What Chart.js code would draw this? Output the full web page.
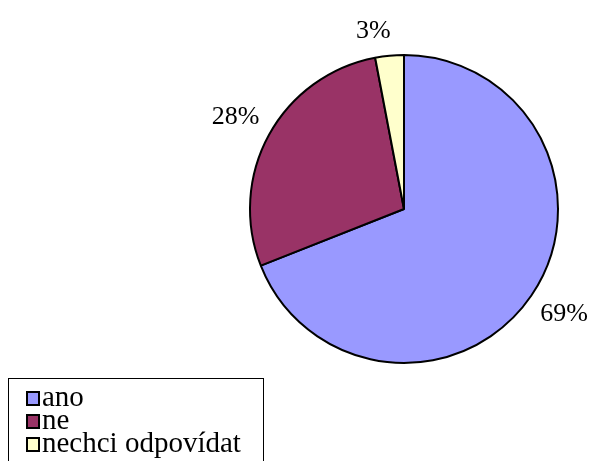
<!DOCTYPE html>
<html>
<head>
<meta charset="utf-8">
<script src="https://cdn.jsdelivr.net/npm/chart.js@4"></script>
<style>
html,body{margin:0;padding:0;background:#fff;}
#wrap{width:590px;height:461px;position:relative;}
</style>
</head>
<body>
<div id="wrap"><canvas id="c"></canvas></div>
<script>
const categories = ["ano", "ne", "nechci odpovídat"];
const values = [69, 28, 3];
const pctLabels = ["69%", "28%", "3%"];
const colors = ["#9999FF", "#993366", "#FFFFCC"];

const FONT = '"Liberation Serif", "Times New Roman", serif';

const labelPlugin = {
  id: 'pctLabels',
  afterDatasetsDraw(chart) {
    const ctx = chart.ctx;
    const meta = chart.getDatasetMeta(0);
    ctx.save();
    ctx.font = '26px ' + FONT;
    ctx.fillStyle = '#000';
    ctx.textAlign = 'center';
    ctx.textBaseline = 'middle';
    meta.data.forEach((arc, i) => {
      const p = arc.getProps(['x','y','startAngle','endAngle','outerRadius'], true);
      const mid = (p.startAngle + p.endAngle) / 2;
      const dx = Math.cos(mid), dy = Math.sin(mid);
      const r = p.outerRadius + 15;
      const halfW = ctx.measureText(pctLabels[i]).width / 2;
      const halfH = 10;
      const x = p.x + dx * r + Math.sign(dx) * halfW * 0.85;
      const y = p.y + dy * r + Math.sign(dy) * halfH;
      ctx.fillText(pctLabels[i], x, y);
    });
    ctx.restore();
  }
};

const legendPlugin = {
  id: 'boxLegend',
  afterDraw(chart) {
    const ctx = chart.ctx;
    ctx.save();
    ctx.strokeStyle = '#000';
    ctx.lineWidth = 1;
    ctx.strokeRect(8.5, 378.5, 255, 120);
    ctx.font = '29px ' + FONT;
    ctx.textBaseline = 'alphabetic';
    ctx.textAlign = 'left';
    categories.forEach((c, i) => {
      const y = 392 + i * 23;
      ctx.fillStyle = colors[i];
      ctx.fillRect(27, y, 12, 13);
      ctx.lineWidth = 2;
      ctx.strokeRect(27, y, 12, 13);
      ctx.fillStyle = '#000';
      ctx.fillText(c, 42, y + 14);
    });
    ctx.restore();
  }
};

new Chart(document.getElementById('c'), {
  type: 'pie',
  data: {
    labels: categories,
    datasets: [{
      data: values,
      backgroundColor: colors,
      borderColor: '#000',
      borderWidth: 2
    }]
  },
  options: {
    responsive: true,
    maintainAspectRatio: false,
    animation: false,
    layout: { padding: { left: 249, right: 31, top: 53, bottom: 96 } },
    plugins: {
      legend: { display: false },
      tooltip: { enabled: false }
    }
  },
  plugins: [labelPlugin, legendPlugin]
});
</script>
</body>
</html>
